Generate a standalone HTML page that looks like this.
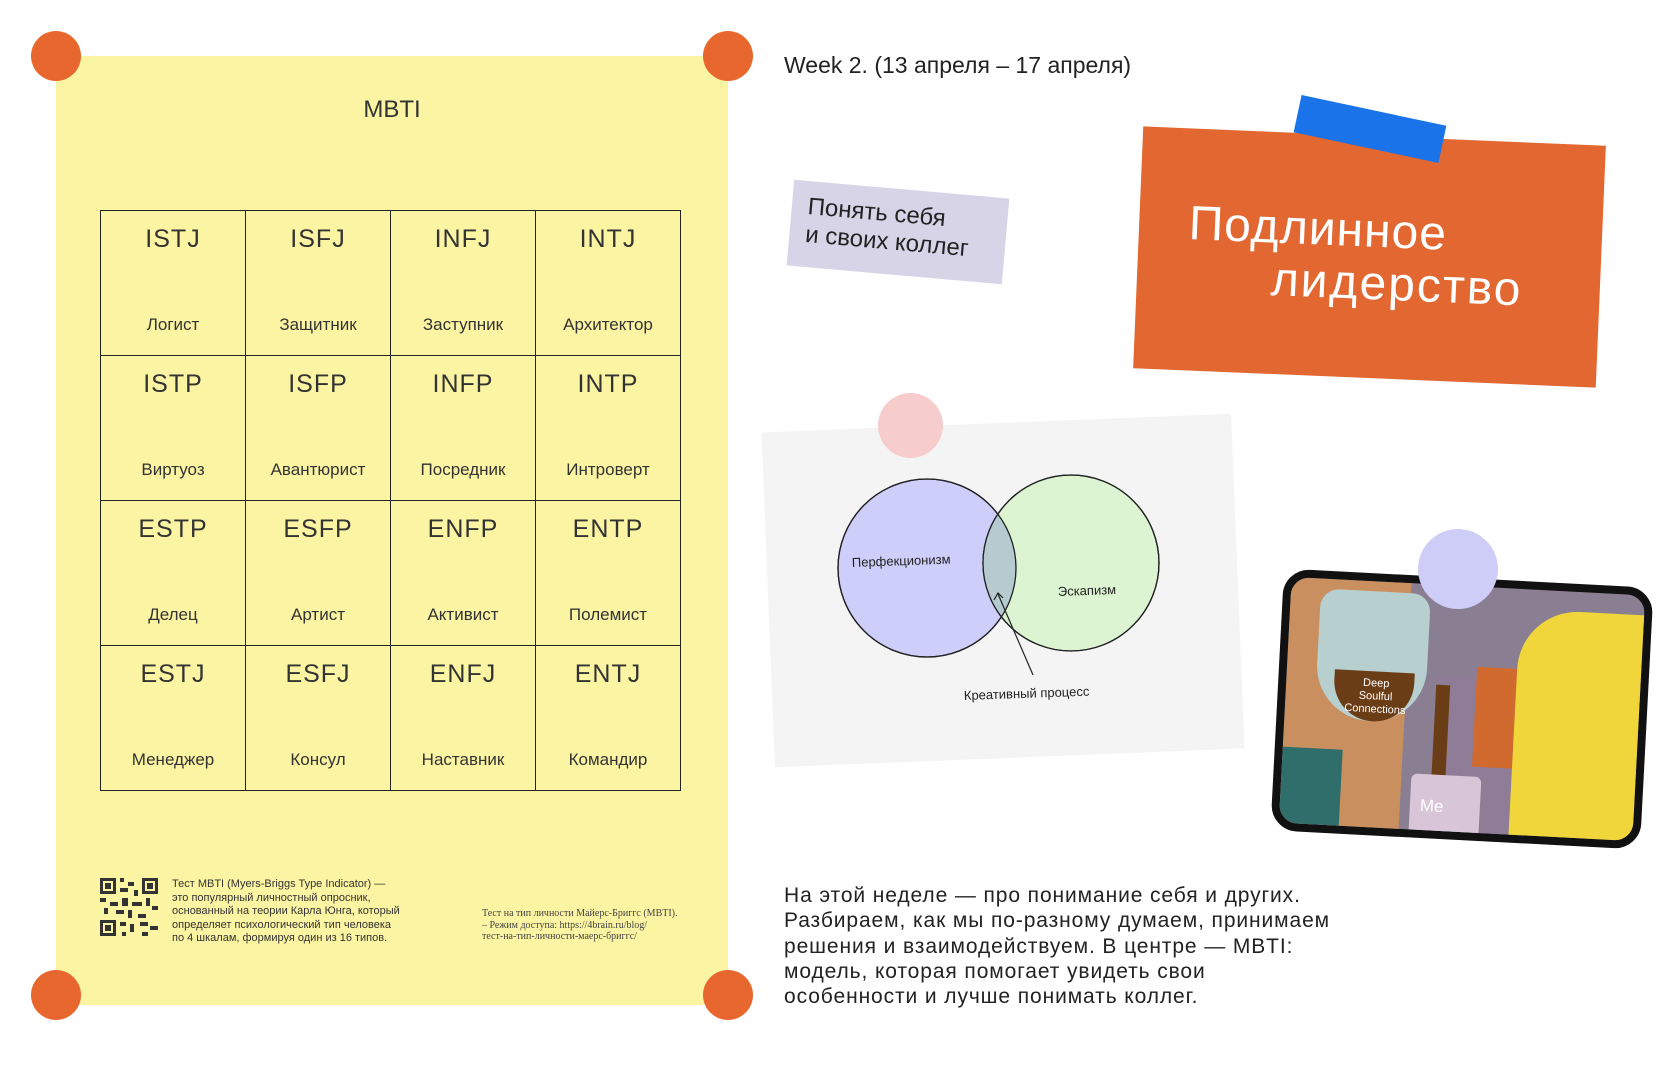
<!DOCTYPE html>
<html><head><meta charset="utf-8"><style>
*{margin:0;padding:0;box-sizing:border-box}
body{width:1680px;height:1090px;background:#fff;position:relative;overflow:hidden;font-family:"Liberation Sans","DejaVu Sans",sans-serif;color:#222}
.abs{position:absolute}
.dot{position:absolute;border-radius:50%}
table{position:absolute;left:100px;top:210px;border-collapse:collapse}
td{width:145px;height:145px;border:1.6px solid #222;text-align:center;vertical-align:top;position:relative}
td .t{position:absolute;top:14px;left:0;right:0;font-size:25px;color:#333;letter-spacing:1px}
td .n{position:absolute;top:104px;left:0;right:0;font-size:17px;color:#333}
</style></head><body>
<div class="abs" style="left:56px;top:56px;width:672px;height:949px;background:#fbf4a3"></div>
<div class="dot" style="left:31px;top:31px;width:50px;height:50px;background:#e8672f"></div>
<div class="dot" style="left:703px;top:31px;width:50px;height:50px;background:#e8672f"></div>
<div class="dot" style="left:31px;top:970px;width:50px;height:50px;background:#e8672f"></div>
<div class="dot" style="left:703px;top:970px;width:50px;height:50px;background:#e8672f"></div>
<div class="abs" style="left:56px;width:672px;top:96px;text-align:center;font-size:24px;color:#333">MBTI</div>
<table>
<tr><td><div class="t">ISTJ</div><div class="n">Логист</div></td><td><div class="t">ISFJ</div><div class="n">Защитник</div></td><td><div class="t">INFJ</div><div class="n">Заступник</div></td><td><div class="t">INTJ</div><div class="n">Архитектор</div></td></tr>
<tr><td><div class="t">ISTP</div><div class="n">Виртуоз</div></td><td><div class="t">ISFP</div><div class="n">Авантюрист</div></td><td><div class="t">INFP</div><div class="n">Посредник</div></td><td><div class="t">INTP</div><div class="n">Интроверт</div></td></tr>
<tr><td><div class="t">ESTP</div><div class="n">Делец</div></td><td><div class="t">ESFP</div><div class="n">Артист</div></td><td><div class="t">ENFP</div><div class="n">Активист</div></td><td><div class="t">ENTP</div><div class="n">Полемист</div></td></tr>
<tr><td><div class="t">ESTJ</div><div class="n">Менеджер</div></td><td><div class="t">ESFJ</div><div class="n">Консул</div></td><td><div class="t">ENFJ</div><div class="n">Наставник</div></td><td><div class="t">ENTJ</div><div class="n">Командир</div></td></tr>
</table>
<svg class="abs" style="left:100px;top:878px" width="58" height="58">
<rect x="0" y="0" width="16" height="16" fill="#333"/><rect x="3" y="3" width="10" height="10" fill="#fbf4a3"/><rect x="5" y="5" width="6" height="6" fill="#333"/>
<rect x="42" y="0" width="16" height="16" fill="#333"/><rect x="45" y="3" width="10" height="10" fill="#fbf4a3"/><rect x="47" y="5" width="6" height="6" fill="#333"/>
<rect x="0" y="42" width="16" height="16" fill="#333"/><rect x="3" y="45" width="10" height="10" fill="#fbf4a3"/><rect x="5" y="47" width="6" height="6" fill="#333"/>
<g fill="#333"><rect x="20" y="0" width="4" height="4"/><rect x="28" y="4" width="6" height="4"/><rect x="20" y="10" width="8" height="4"/><rect x="34" y="12" width="4" height="6"/><rect x="0" y="20" width="6" height="4"/><rect x="10" y="24" width="8" height="4"/><rect x="22" y="20" width="6" height="8"/><rect x="32" y="24" width="10" height="4"/><rect x="46" y="20" width="4" height="8"/><rect x="52" y="28" width="6" height="4"/><rect x="4" y="30" width="4" height="6"/><rect x="16" y="32" width="8" height="4"/><rect x="28" y="32" width="4" height="8"/><rect x="38" y="36" width="8" height="4"/><rect x="20" y="44" width="6" height="4"/><rect x="30" y="46" width="4" height="8"/><rect x="40" y="44" width="8" height="4"/><rect x="50" y="48" width="8" height="4"/><rect x="22" y="54" width="4" height="4"/><rect x="42" y="54" width="6" height="4"/></g>
</svg>
<div class="abs" style="left:172px;top:878px;font-size:11px;line-height:13.5px;color:#333">Тест MBTI (Myers-Briggs Type Indicator) —<br>это популярный личностный опросник,<br>основанный на теории Карла Юнга, который<br>определяет психологический тип человека<br>по 4 шкалам, формируя один из 16 типов.</div>
<div class="abs" style="left:482px;top:908px;font-family:'Liberation Serif',serif;font-size:10px;line-height:11.5px;color:#444">Тест на тип личности Майерс-Бриггс (MBTI).<br>– Режим доступа: https://4brain.ru/blog/<br>тест-на-тип-личности-маерс-бриггс/</div>

<div class="abs" style="left:784px;top:52px;font-size:23px;color:#222">Week 2. (13 апреля – 17 апреля)</div>

<div class="abs" style="left:790px;top:189px;width:216px;height:86px;background:#d8d4e8;transform:rotate(5deg);font-size:24px;line-height:28px;padding:12px 0 0 16px;color:#222">Понять себя<br>и своих коллег</div>

<div class="abs" style="left:1138px;top:136px;width:463px;height:242px;background:#e26730;transform:rotate(2.4deg)"></div>
<div class="abs" style="left:1296px;top:110px;width:148px;height:38px;background:#1a73e8;transform:rotate(12deg)"></div>
<div class="abs" style="left:1190px;top:196px;font-size:48px;color:#fff;letter-spacing:1px;transform:rotate(2.4deg);transform-origin:left top">Подлинное</div>
<div class="abs" style="left:1272px;top:252px;font-size:48px;color:#fff;letter-spacing:2px;transform:rotate(2.4deg);transform-origin:left top">лидерство</div>

<div class="abs" style="left:768px;top:423px;width:470px;height:335px;background:#f4f4f4;transform:rotate(-2.3deg)"></div>
<div class="dot" style="left:878px;top:393px;width:65px;height:65px;background:#f7cccc"></div>
<svg class="abs" style="left:0;top:0" width="1680" height="1090">
<defs><clipPath id="c"><circle cx="927" cy="568" r="89"/></clipPath></defs>
<circle cx="927" cy="568" r="89" fill="#cdcffa" stroke="#222" stroke-width="1.3"/>
<circle cx="1071" cy="563" r="88" fill="#dcf4d2" stroke="#222" stroke-width="1.3"/>
<circle cx="1071" cy="563" r="88" fill="#b6cbd0" clip-path="url(#c)"/>
<circle cx="927" cy="568" r="89" fill="none" stroke="#222" stroke-width="1.3"/>
<circle cx="1071" cy="563" r="88" fill="none" stroke="#222" stroke-width="1.3"/>
<line x1="1033" y1="675" x2="998" y2="594" stroke="#222" stroke-width="1.2"/>
<path d="M994 600 L998 593 L1003 598" fill="none" stroke="#222" stroke-width="1.2"/>
<text x="852" y="567" font-size="13" fill="#222" font-family="Liberation Sans" transform="rotate(-2 852 567)">Перфекционизм</text>
<text x="1058" y="596" font-size="13" fill="#222" font-family="Liberation Sans" transform="rotate(-2 1058 596)">Эскапизм</text>
<text x="964" y="700" font-size="13" fill="#222" font-family="Liberation Sans" transform="rotate(-2 964 700)">Креативный процесс</text>
</svg>

<div class="abs" style="left:1277px;top:578px;width:370px;height:262px;transform:rotate(3deg);border:8px solid #111;border-radius:26px;overflow:hidden;background:#8a7f92">
 <div class="abs" style="left:0;top:0;width:120px;height:260px;background:#c98f5e"></div>
 <div class="abs" style="left:0;top:170px;width:60px;height:90px;background:#2f6e6a"></div>
 <div class="abs" style="left:150px;top:90px;width:100px;height:170px;background:#8f7c97"></div>
 <div class="abs" style="left:190px;top:80px;width:60px;height:100px;background:#d06a2f"></div>
 <div class="abs" style="left:30px;top:10px;width:110px;height:130px;background:#b8cfcf;border-radius:20px 20px 60px 60px"></div>
 <div class="abs" style="left:48px;top:90px;width:80px;height:50px;background:#6b3d16;border-radius:0 0 40px 40px"></div>
 <div class="abs" style="left:150px;top:100px;width:14px;height:110px;background:#6b3d16"></div>
 <div class="abs" style="left:230px;top:20px;width:140px;height:240px;background:#f0d63a;border-radius:60px 0 0 0"></div>
 <div class="abs" style="left:130px;top:190px;width:70px;height:70px;background:#d8c6d8;border-radius:6px"></div>
 <div class="abs" style="left:50px;top:96px;width:80px;font-size:11px;line-height:13px;color:#fff;text-align:center">Deep<br>Soulful<br>Connections</div>
 <div class="abs" style="left:140px;top:212px;font-size:17px;color:#fff">Me</div>
</div>
<div class="dot" style="left:1418px;top:529px;width:80px;height:80px;background:#cdcdf7"></div>

<div class="abs" style="left:784px;top:883px;font-size:21px;line-height:25.3px;letter-spacing:0.9px;color:#222">На этой неделе — про понимание себя и других.<br>Разбираем, как мы по-разному думаем, принимаем<br>решения и взаимодействуем. В центре — MBTI:<br>модель, которая помогает увидеть свои<br>особенности и лучше понимать коллег.</div>
</body></html>
